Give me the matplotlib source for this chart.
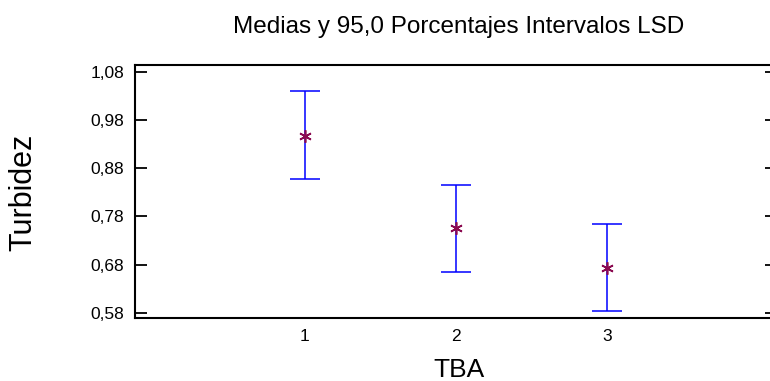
import matplotlib
matplotlib.use("Agg")
import matplotlib.pyplot as plt
import numpy as np

plt.rcParams['font.family'] = ['Liberation Sans', 'DejaVu Sans']

groups = [1, 2, 3]
means = [0.947, 0.755, 0.673]
lower = [0.857, 0.665, 0.583]
upper = [1.040, 0.846, 0.764]
yticks = [0.58, 0.68, 0.78, 0.88, 0.98, 1.08]
ytick_labels = ["0,58", "0,68", "0,78", "0,88", "0,98", "1,08"]

fig = plt.figure(figsize=(7.70, 3.81), dpi=100)
W, H = 770, 381
ax = fig.add_axes([135 / W, 1 - 318 / H, (777 - 135) / W, (318 - 65) / H])

m = np.array(means)
yerr = [m - np.array(lower), np.array(upper) - m]
ax.errorbar(groups, means, yerr=yerr, fmt='none', ecolor='#0000FF',
            elinewidth=1.1, capsize=11, capthick=1.1)
ax.plot(groups, means, linestyle='none', marker=(6, 2, 0), markersize=9,
        markeredgecolor='#8B0A50', markeredgewidth=1.2)

ax.set_xlim(-0.12, 4.12)
ax.set_ylim(0.569, 1.094)
ax.set_xticks(groups)
ax.set_xticklabels([str(g) for g in groups])
ax.set_yticks(yticks)
ax.set_yticklabels(ytick_labels)

for s in ax.spines.values():
    s.set_linewidth(1.5)
    s.set_color('black')

ax.tick_params(axis='y', direction='in', length=8.5, width=1.3, labelsize=12.5,
               right=True, pad=8)
ax.tick_params(axis='x', length=0, labelsize=12.5, pad=8)

fig.text(459 / W, 1 - 370 / H, "TBA", ha='center', va='center', fontsize=19)
fig.text(23 / W, 1 - 192 / H, "Turbidez", ha='center', va='center',
         rotation=90, fontsize=22)
fig.text(459 / W, 1 - 27 / H, "Medias y 95,0 Porcentajes Intervalos LSD",
         ha='center', va='center', fontsize=17.5)

fig.savefig("out.png", dpi=100)
